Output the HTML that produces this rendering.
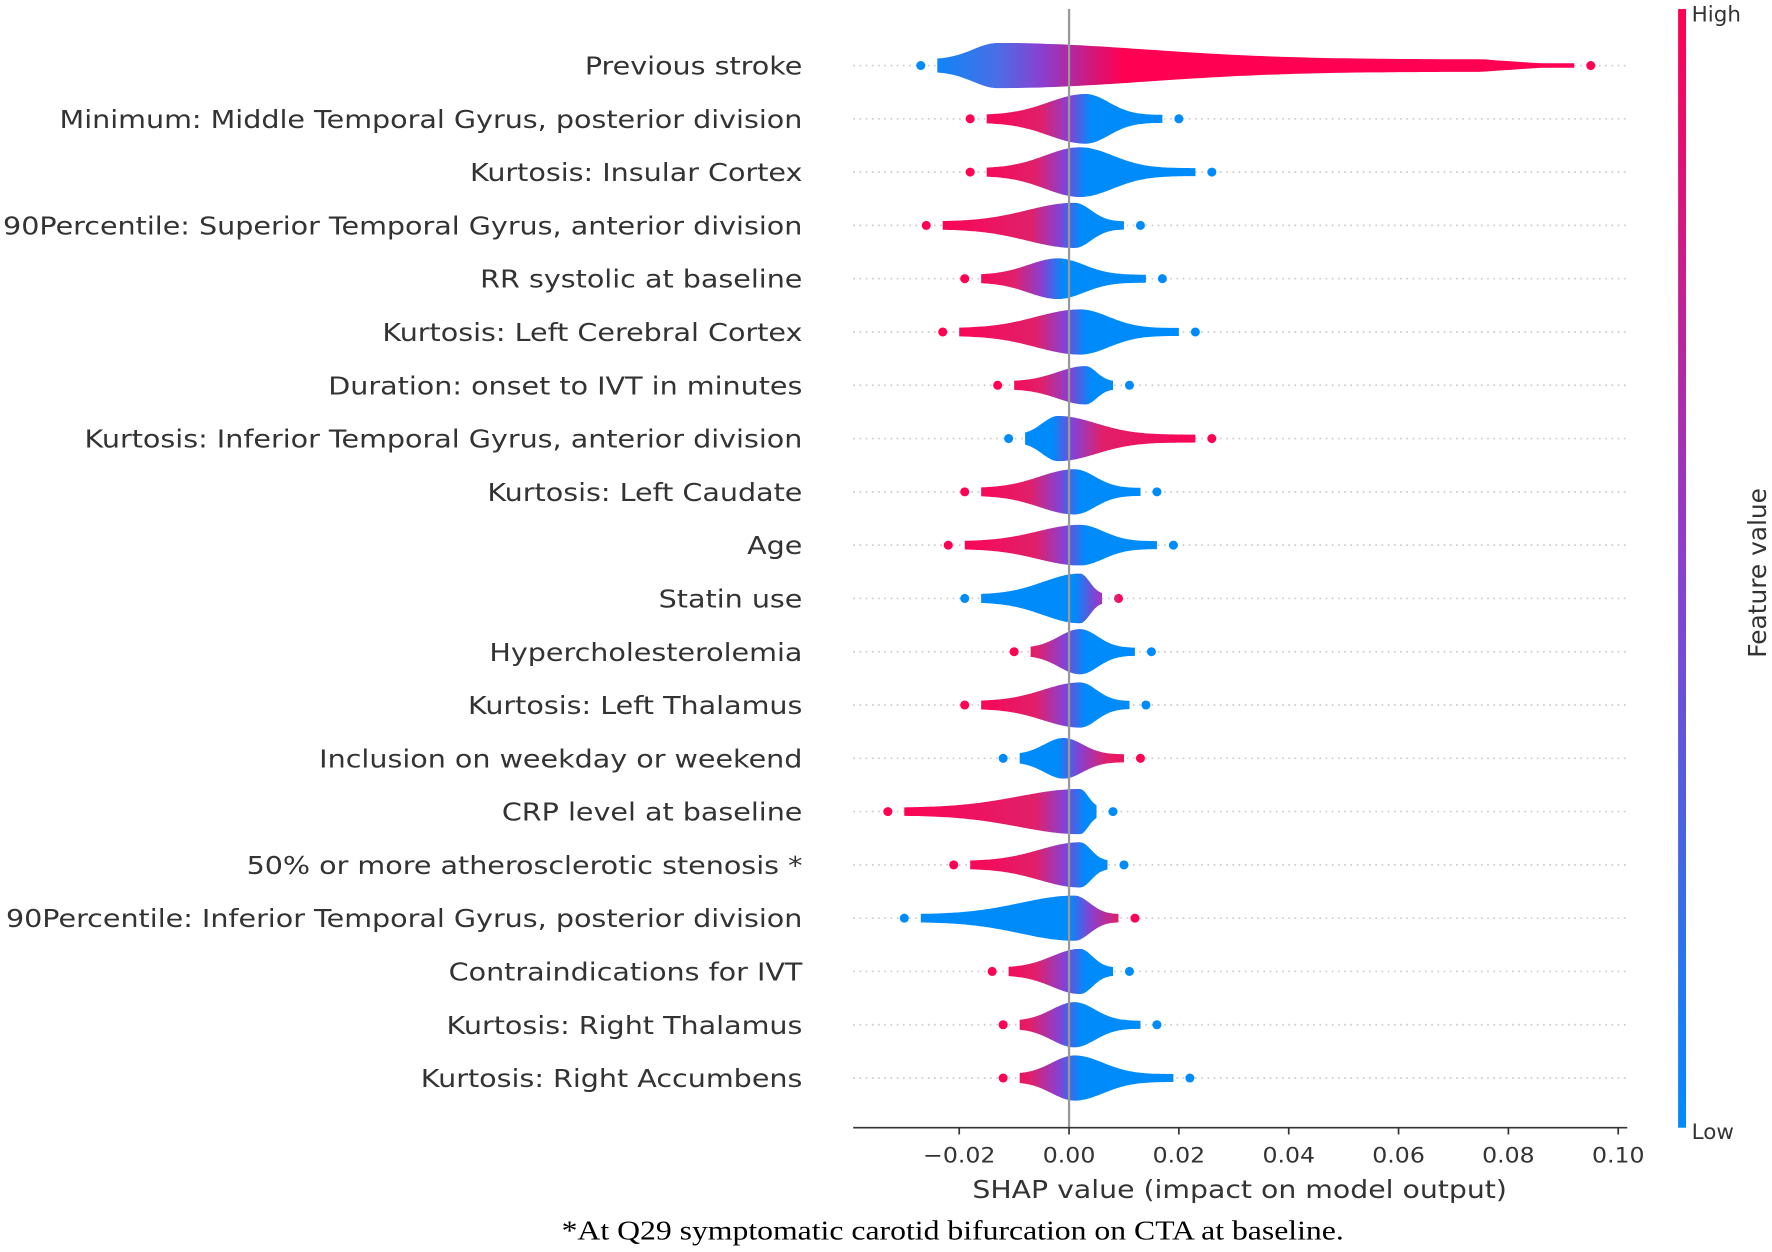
<!DOCTYPE html>
<html><head><meta charset="utf-8"><style>
html,body{margin:0;padding:0;background:#fff;}
svg{display:block;}
</style></head><body>
<svg id="chart" width="1772" height="1252" viewBox="0 0 1568 1108" xmlns="http://www.w3.org/2000/svg" font-family="'DejaVu Sans','Liberation Sans',sans-serif">
<defs>
<linearGradient id="cbar" x1="0" y1="1" x2="0" y2="0">
<stop offset="0" stop-color="#008bfb"/><stop offset="0.5" stop-color="#8a3fd0"/><stop offset="1" stop-color="#ff0052"/>
</linearGradient>
</defs>
<g id="grid"></g>
<g id="swarms"></g>
<line x1="946" y1="8" x2="946" y2="998" stroke="#999" stroke-width="2"/>
<g id="labels"></g>
<g id="xaxis"></g>
<text transform="translate(1097,1060) scale(1.14,1)" text-anchor="middle" font-size="22" fill="#333">SHAP value (impact on model output)</text>
<text transform="translate(843,1097) scale(1.17,1)" text-anchor="middle" font-size="24" fill="#000" font-family="'Liberation Serif',serif">*At Q29 symptomatic carotid bifurcation on CTA at baseline.</text>
<rect x="1485" y="8" width="7" height="990" fill="url(#cbar)"/>
<text x="1497" y="19" font-size="19" fill="#333">High</text>
<text x="1497" y="1008" font-size="19" fill="#333">Low</text>
<text transform="translate(1563,507) rotate(-90)" text-anchor="middle" font-size="22" fill="#333">Feature value</text>
</svg>
<script>
const features = ["Previous stroke","Minimum: Middle Temporal Gyrus, posterior division","Kurtosis: Insular Cortex","90Percentile: Superior Temporal Gyrus, anterior division","RR systolic at baseline ","Kurtosis: Left Cerebral Cortex","Duration: onset to IVT in minutes ","Kurtosis: Inferior Temporal Gyrus, anterior division","Kurtosis: Left Caudate","Age","Statin use","Hypercholesterolemia","Kurtosis: Left Thalamus","Inclusion on weekday or weekend","CRP level at baseline ","50% or more atherosclerotic stenosis *","90Percentile: Inferior Temporal Gyrus, posterior division","Contraindications for IVT","Kurtosis: Right Thalamus","Kurtosis: Right Accumbens"];
const minVals  = [-0.027,-0.018,-0.018,-0.026,-0.019,-0.023,-0.013,-0.011,-0.019,-0.022,-0.019,-0.010,-0.019,-0.012,-0.033,-0.021,-0.030,-0.014,-0.012,-0.012];
const maxVals  = [0.095,0.020,0.026,0.013,0.017,0.023,0.011,0.026,0.016,0.019,0.009,0.015,0.014,0.013,0.008,0.010,0.012,0.011,0.016,0.022];
const peakVals = [-0.013,0.003,0.002,0.001,-0.002,0.002,0.003,-0.002,0.001,0.002,0.002,0.002,0.002,-0.001,0.002,0.002,0.001,0.002,0.001,0.001];
const peakDensity = [20,22,22,20,18,20,17,20,20,18,22,20,20,18,20,20,20,20,20,20];
const highSide = [1,-1,-1,-1,-1,-1,-1,1,-1,-1,1,-1,-1,1,-1,-1,1,-1,-1,-1];
const xTicks = [-0.02,0,0.02,0.04,0.06,0.08,0.10];
const xTickLabels = ["\u22120.02","0.00","0.02","0.04","0.06","0.08","0.10"];

const NS="http://www.w3.org/2000/svg";
const xs = v => 946 + v*4860;
const ys = i => 58 + i*47.16;
const RED="#ff0052", BLUE="#008bfb", PURP="#8a3fd0";
function mk(tag, attrs, parent){const e=document.createElementNS(NS,tag);for(const k in attrs)e.setAttribute(k,attrs[k]);parent.appendChild(e);return e;}
const defs=document.querySelector('defs');
const grid=document.getElementById('grid'), sw=document.getElementById('swarms'), lab=document.getElementById('labels'), xa=document.getElementById('xaxis');

features.forEach((f,i)=>{
  const y=ys(i);
  const gl=mk('line',{x1:755,x2:1440,y1:y,y2:y,stroke:'#ccc','stroke-width':1.5,'stroke-dasharray':'1.5 4'},grid);
  
  
  const t=mk('text',{transform:'translate(710,'+(y+8)+') scale(1.15,1)','text-anchor':'end','font-size':22,fill:'#333'},lab);
  t.textContent=f;
  
  

  const lo=minVals[i], hi=maxVals[i], pk=peakVals[i], pd=peakDensity[i];
  const g=mk('linearGradient',{id:'g'+i,gradientUnits:'userSpaceOnUse',x1:xs(lo),x2:xs(hi),y1:0,y2:0},defs);
  const span=hi-lo;
  const off=v=>Math.max(0,Math.min(1,(v-lo)/span));
  let stops;
  if(i===0){stops=[[lo,BLUE],[pk,'#4a6ee6'],[pk+0.008,PURP],[0.004,'#d0187a'],[0.01,RED],[hi,RED]];}
  else if(highSide[i]<0){stops=[[lo,RED],[pk-0.008,'#e0206a'],[pk-0.003,PURP],[pk+0.001,BLUE],[hi,BLUE]];}
  else{stops=[[lo,BLUE],[pk-0.001,BLUE],[pk+0.003,PURP],[pk+0.008,'#e0206a'],[hi,RED]];}
  stops.forEach(s=>mk('stop',{offset:off(s[0]),'stop-color':s[1]},g));
  const wL=(pk-lo)*0.45, wR=(hi-pk)*0.35;
  const minH = i===0?5.5:3.5;
  const top=[], bot=[];
  const N=120;
  for(let k=0;k<=N;k++){
    const v=lo+0.003+(span-0.006)*k/N;
    const w=v<pk?wL:wR;
    let d=minH+(pd-minH)*Math.exp(-Math.pow((v-pk)/w,2));
    if(i===0 && v>hi-0.02) d=Math.max(2,d*(hi-0.003-v)/0.017);
    top.push(xs(v).toFixed(1)+','+(y-d).toFixed(1));
    bot.unshift(xs(v).toFixed(1)+','+(y+d).toFixed(1));
  }
  const p=mk('polygon',{points:top.concat(bot).join(' '),fill:'url(#g'+i+')'},sw);
  
  
  [lo,hi].forEach((v,j)=>{
    const c=mk('circle',{cx:xs(v),cy:y,r:4,fill:'url(#g'+i+')'},sw);
    
    
  });
});

const ax=mk('line',{x1:755,x2:1440,y1:998,y2:998,stroke:'#333','stroke-width':1.5},xa);


xTicks.forEach((v,i)=>{
  mk('line',{x1:xs(v),x2:xs(v),y1:998,y2:1004,stroke:'#333','stroke-width':1.5},xa);
  const t=mk('text',{transform:'translate('+xs(v)+',1029) scale(1.1,1)','text-anchor':'middle','font-size':19,fill:'#333'},xa);
  t.textContent=xTickLabels[i];
  
  
});
</script>
</body></html>
